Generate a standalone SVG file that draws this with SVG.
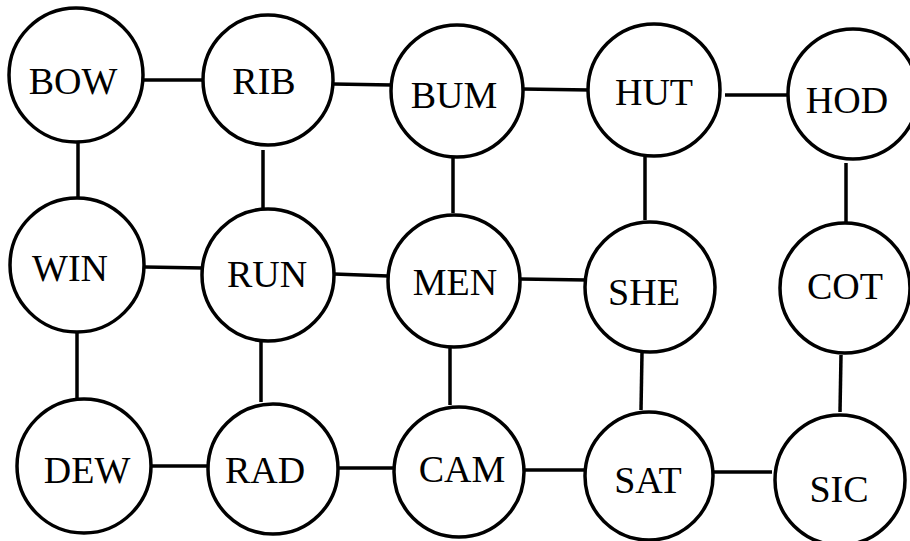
<svg xmlns="http://www.w3.org/2000/svg" width="910" height="541" viewBox="0 0 910 541">
<style>
.n circle{fill:#fff;stroke:#000;stroke-width:3.5}
.n text{font-family:"Liberation Serif","Times New Roman",serif;font-size:38px;text-anchor:middle;fill:#000}
#edges line{stroke:#000;stroke-width:3.5}
</style>
<rect width="910" height="541" fill="#fff"/>
<g id="edges">
<line x1="143" y1="80" x2="202" y2="80"/>
<line x1="333" y1="84" x2="392" y2="85"/>
<line x1="522" y1="89" x2="590" y2="90"/>
<line x1="725" y1="95" x2="789" y2="95"/>
<line x1="145" y1="267" x2="203" y2="268"/>
<line x1="334" y1="274" x2="388" y2="276"/>
<line x1="520" y1="279" x2="587" y2="280"/>
<line x1="151" y1="466" x2="208" y2="466"/>
<line x1="338" y1="468" x2="395" y2="468"/>
<line x1="524" y1="470" x2="586" y2="470"/>
<line x1="714" y1="472" x2="772" y2="472"/>
<line x1="78" y1="143" x2="78" y2="197"/>
<line x1="263" y1="150" x2="263" y2="208"/>
<line x1="453" y1="158" x2="453" y2="213"/>
<line x1="645" y1="157" x2="645" y2="220"/>
<line x1="846" y1="163" x2="846" y2="222"/>
<line x1="77" y1="332" x2="77" y2="398"/>
<line x1="261" y1="342" x2="261" y2="402"/>
<line x1="450" y1="348" x2="450" y2="405"/>
<line x1="642" y1="353" x2="641" y2="410"/>
<line x1="841" y1="355" x2="840" y2="412"/>
</g>
<g id="BOW" class="n"><circle cx="76" cy="75" r="67"/><text x="73" y="94">BOW</text></g>
<g id="RIB" class="n"><circle cx="268" cy="80" r="65"/><text x="264" y="94">RIB</text></g>
<g id="BUM" class="n"><circle cx="457" cy="91" r="66"/><text x="454" y="108">BUM</text></g>
<g id="HUT" class="n"><circle cx="654" cy="90" r="66"/><text x="654" y="105">HUT</text></g>
<g id="HOD" class="n"><circle cx="853" cy="94" r="65"/><text x="847" y="113">HOD</text></g>
<g id="WIN" class="n"><circle cx="77" cy="265" r="67"/><text x="70" y="281">WIN</text></g>
<g id="RUN" class="n"><circle cx="268" cy="275" r="66"/><text x="267" y="287">RUN</text></g>
<g id="MEN" class="n"><circle cx="454" cy="281" r="66"/><text x="455" y="295">MEN</text></g>
<g id="SHE" class="n"><circle cx="650" cy="287" r="65"/><text x="644" y="305">SHE</text></g>
<g id="COT" class="n"><circle cx="845" cy="288" r="65"/><text x="845" y="299">COT</text></g>
<g id="DEW" class="n"><circle cx="84" cy="466" r="67"/><text x="87" y="483">DEW</text></g>
<g id="RAD" class="n"><circle cx="273" cy="469" r="65"/><text x="265" y="483">RAD</text></g>
<g id="CAM" class="n"><circle cx="459" cy="472" r="65"/><text x="462" y="482">CAM</text></g>
<g id="SAT" class="n"><circle cx="649" cy="476" r="64"/><text x="648" y="493">SAT</text></g>
<g id="SIC" class="n"><circle cx="840" cy="480" r="65"/><text x="839" y="502">SIC</text></g>
</svg>
